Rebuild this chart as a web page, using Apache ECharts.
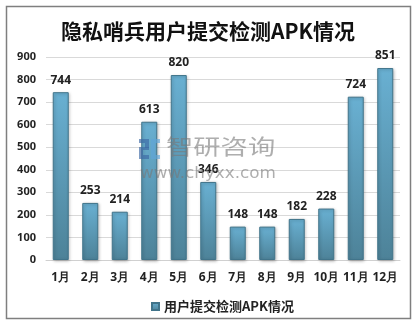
<!DOCTYPE html>
<html>
<head>
<meta charset="utf-8">
<style>
  html, body { margin: 0; padding: 0; background: #fff; }
  #chart { width: 416px; height: 325px; }
</style>
<script src="https://cdn.jsdelivr.net/npm/echarts@6/dist/echarts.min.js"></script>
</head>
<body>
<div id="chart"></div>
<script>
// Monthly APK submissions to 隐私哨兵
const months = ['1月', '2月', '3月', '4月', '5月', '6月', '7月', '8月', '9月', '10月', '11月', '12月'];
const submissions = [744, 253, 214, 613, 820, 346, 148, 148, 182, 228, 724, 851];
const seriesName = '用户提交检测APK情况';
const yTicks = { min: 0, max: 900, interval: 100 };

const chart = echarts.init(document.getElementById('chart'), null, { renderer: 'canvas' });

const barFill = new echarts.graphic.LinearGradient(0, 0, 0, 1, [
  { offset: 0, color: '#69b0d2' },
  { offset: 1, color: '#4d8298' }
]);

// Brand watermark: small blocky logo plus stretched wordmark and URL
const logoDark = 'rgba(60,105,165,0.65)';
const logoLight = 'rgba(95,165,215,0.65)';
const watermark = [
  { type: 'rect', shape: { x: 139, y: 139, width: 10, height: 4 }, style: { fill: logoDark }, z: 100 },
  { type: 'rect', shape: { x: 145, y: 143, width: 4, height: 5 }, style: { fill: logoDark }, z: 100 },
  { type: 'rect', shape: { x: 139, y: 147, width: 10, height: 3 }, style: { fill: logoDark }, z: 100 },
  { type: 'rect', shape: { x: 139, y: 150, width: 4, height: 5 }, style: { fill: logoDark }, z: 100 },
  { type: 'rect', shape: { x: 139, y: 155, width: 10, height: 4 }, style: { fill: logoDark }, z: 100 },
  { type: 'rect', shape: { x: 151, y: 139, width: 9, height: 4 }, style: { fill: logoLight }, z: 100 },
  { type: 'rect', shape: { x: 151, y: 143, width: 4, height: 16 }, style: { fill: logoLight }, z: 100 },
  { type: 'rect', shape: { x: 155, y: 155, width: 5, height: 4 }, style: { fill: logoLight }, z: 100 },
  {
    type: 'text',
    x: 166,
    y: 136,
    scaleX: 1.3,
    style: {
      text: '智研咨询',
      font: '21px "Noto Sans CJK SC"',
      fill: 'rgba(120,120,120,0.6)'
    },
    z: 100
  },
  {
    type: 'text',
    x: 140,
    y: 166,
    scaleX: 1.05,
    style: {
      text: 'www.chyxx.com',
      font: '16px "DejaVu Sans"',
      fill: 'rgba(120,120,120,0.6)'
    },
    z: 100
  }
];

chart.setOption({
  animation: false,
  backgroundColor: '#ffffff',
  title: {
    text: '隐私哨兵用户提交检测APK情况',
    left: 'center',
    top: 16,
    textStyle: {
      fontFamily: 'Noto Sans CJK SC',
      fontWeight: 'bold',
      fontSize: 21,
      color: '#111'
    }
  },
  graphic: [
    {
      type: 'rect',
      shape: { x: 6.5, y: 6.5, width: 404, height: 312 },
      style: { fill: 'none', stroke: '#7f7f7f', lineWidth: 1.5 },
      z: -1
    }
  ].concat(watermark),
  legend: {
    top: 295,
    left: 146,
    itemWidth: 7,
    itemHeight: 7,
    itemGap: 3,
    icon: 'rect',
    textStyle: {
      fontFamily: 'Noto Sans CJK SC',
      fontWeight: 'bold',
      fontSize: 13,
      color: '#222'
    },
    data: [seriesName]
  },
  grid: { left: 46, right: 16, top: 57, bottom: 65 },
  xAxis: {
    type: 'category',
    data: months,
    axisLine: { lineStyle: { color: '#d0d0d0' } },
    axisTick: { show: false },
    axisLabel: {
      margin: 12,
      interval: 0,
      fontFamily: 'Noto Sans',
      fontWeight: 'bold',
      fontSize: 12,
      color: '#222'
    }
  },
  yAxis: {
    type: 'value',
    min: yTicks.min,
    max: yTicks.max,
    interval: yTicks.interval,
    axisLine: { show: false },
    axisTick: { show: false },
    splitLine: { lineStyle: { color: '#d9d9d9' } },
    axisLabel: {
      margin: 10,
      fontFamily: 'Noto Sans',
      fontWeight: 'bold',
      fontSize: 11,
      color: '#222'
    }
  },
  series: [{
    name: seriesName,
    type: 'bar',
    data: submissions,
    barWidth: 16,
    itemStyle: {
      color: barFill,
      borderColor: '#41748a',
      borderWidth: 1,
      shadowColor: 'rgba(0,0,0,0.25)',
      shadowBlur: 3,
      shadowOffsetX: 1,
      shadowOffsetY: 1
    },
    label: {
      show: true,
      position: 'top',
      distance: 6,
      fontFamily: 'Noto Sans',
      fontWeight: 'bold',
      fontSize: 12,
      color: '#222'
    }
  }]
});
</script>
</body>
</html>
